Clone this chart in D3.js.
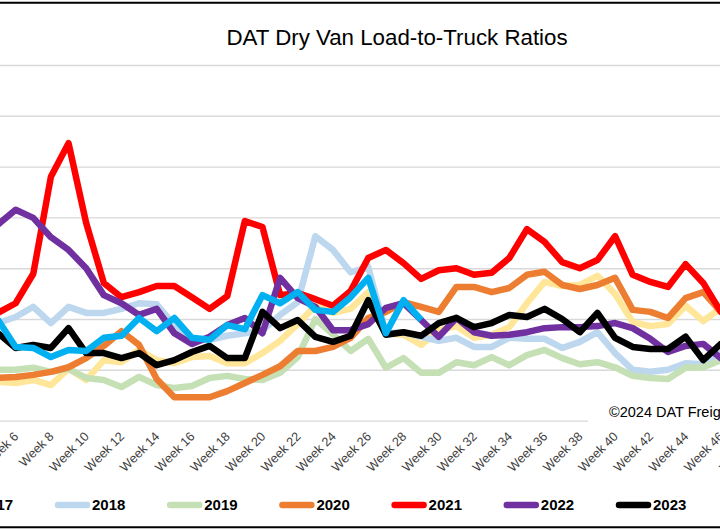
<!DOCTYPE html>
<html><head><meta charset="utf-8">
<script src="https://cdn.jsdelivr.net/npm/d3@7"></script>
<style>
html,body{margin:0;padding:0;background:#fff;overflow:hidden}
svg{display:block}
text{font-family:"Liberation Sans",Arial,sans-serif}
</style></head><body>
<svg id="chart" width="720" height="530"></svg>
<script>
// ---- data ----
const weeks = d3.range(1, 53);
const tickWeeks = d3.range(6, 49, 2);          // labels visible in the cropped picture
const tickLabels = tickWeeks.map(w => "Week " + w);
const gridValues = [1, 2, 3, 4, 5, 6, 7, 8];
const seriesNames = ["2017", "2018", "2019", "2020", "2021", "2022", "2023", "2024"];
const seriesColors = ["#FFE699", "#BDD7EE", "#C5E0B4", "#ED7D31", "#FF0000", "#7030A0", "#000000", "#00B0F0"];
const titleText = "DAT Dry Van Load-to-Truck Ratios";
const creditText = "\u00A92024 DAT Freight & Analytics";

const v2017 = [1.80,1.80,1.70,1.70,1.76,1.74,1.80,1.70,2.02,1.80,
  2.19,2.15,2.39,2.19,2.13,2.25,2.27,2.13,2.13,2.33,
  2.57,2.90,3.26,3.12,3.20,3.53,2.72,2.69,2.49,2.78,
  2.86,2.63,2.69,2.84,3.31,3.73,3.65,3.67,3.85,3.49,
  2.94,2.86,2.90,3.26,2.96,3.22,3.40,3.60,3.30,3.50,3.80,4.00];
const v2018 = [2.90,3.00,3.10,3.00,2.92,3.04,3.24,2.92,3.24,3.12,
  3.12,3.20,3.31,3.29,2.88,2.57,2.59,2.67,2.72,2.78,
  3.08,3.33,4.63,4.36,3.92,4.02,2.72,2.74,2.65,2.57,
  2.63,2.45,2.45,2.63,2.61,2.61,2.43,2.55,2.74,2.33,
  2.00,1.96,2.00,2.13,2.11,2.33,2.40,2.50,2.60,2.50,2.70,2.80];
const v2019 = [2.10,2.10,2.00,2.00,2.00,2.00,2.04,1.96,2.02,1.84,
  1.80,1.66,1.86,1.70,1.64,1.68,1.84,1.88,1.82,1.80,
  1.94,2.25,3.00,2.70,2.37,2.61,2.04,2.23,1.94,1.94,
  2.15,2.09,2.25,2.09,2.29,2.39,2.23,2.11,2.15,2.05,
  1.88,1.84,1.82,2.04,2.05,2.19,2.20,2.30,2.20,2.40,2.50,2.60];
const v2020 = [1.90,1.90,1.80,1.80,1.84,1.86,1.90,1.96,2.05,2.23,
  2.47,2.76,2.49,1.82,1.46,1.46,1.46,1.58,1.74,1.90,
  2.07,2.37,2.37,2.45,2.63,3.02,3.14,3.33,3.24,3.14,
  3.63,3.63,3.53,3.61,3.87,3.93,3.67,3.59,3.67,3.81,
  3.18,3.14,3.02,3.41,3.53,3.14,3.30,3.60,3.90,4.00,4.20,4.30];
const v2021 = [4.20,4.00,3.70,3.30,3.12,3.31,3.89,5.80,6.46,4.89,
  3.71,3.43,3.53,3.65,3.65,3.43,3.20,3.45,4.93,4.81,
  3.47,3.51,3.39,3.26,3.55,4.20,4.36,4.10,3.79,3.96,
  4.00,3.87,3.91,4.20,4.77,4.52,4.12,4.00,4.16,4.63,
  3.87,3.73,3.63,4.08,3.71,3.14,3.00,3.20,3.40,3.30,3.60,3.90];
const v2022 = [4.00,4.30,4.60,4.90,4.86,5.15,4.99,4.61,4.36,4.00,
  3.47,3.31,3.08,3.20,2.72,2.51,2.65,2.88,3.02,2.72,
  3.81,3.41,3.24,2.78,2.78,2.90,3.22,3.31,2.98,2.65,
  3.02,2.74,2.67,2.69,2.74,2.82,2.84,2.84,2.86,2.92,
  2.82,2.61,2.35,2.47,2.51,2.23,2.30,2.40,2.20,2.10,2.30,2.40];
const v2023 = [2.60,2.70,2.80,2.70,2.72,2.43,2.49,2.43,2.82,2.33,
  2.33,2.23,2.33,2.09,2.19,2.35,2.47,2.23,2.23,3.14,
  2.82,2.98,2.65,2.55,2.67,3.37,2.69,2.74,2.67,2.92,
  3.02,2.84,2.92,3.08,3.04,3.20,3.00,2.74,3.12,2.63,
  2.45,2.41,2.41,2.65,2.19,2.51,2.60,2.50,2.40,2.60,2.70,2.50];
const v2024 = [2.50,2.70,2.90,3.10,2.98,2.45,2.43,2.25,2.39,2.37,
  2.63,2.67,3.02,2.76,3.02,2.63,2.59,2.88,2.80,3.47,
  3.31,3.53,3.18,3.14,3.43,3.81,2.72,3.37,2.98];

const seriesValues = [v2017, v2018, v2019, v2020, v2021, v2022, v2023, v2024];

// ---- layout (the picture is a crop of a wider chart) ----
const W = 720, H = 530;
const firstX = -72.5, step = 17.63;
const yBottom = 420.6, yTop = 65;

const svg = d3.select("#chart");
svg.append("rect").attr("width", W).attr("height", H).attr("fill", "#fff");

const x = d3.scalePoint().domain(weeks).range([firstX, firstX + step * (weeks.length - 1)]);
const y = d3.scaleLinear().domain([1, 8]).range([yBottom, yTop]);

// gridlines
const grid = svg.append("g").attr("transform", `translate(${firstX - step / 2},0)`)
  .call(d3.axisLeft(y).tickValues(gridValues).tickSize(-(step * weeks.length)).tickFormat(""));
grid.select(".domain").remove();
grid.selectAll("line").attr("stroke", "#D9D9D9").attr("stroke-width", 1.4);

// credit box (covers bottom gridline)
svg.append("rect").attr("x", 588).attr("y", 399).attr("width", 200).attr("height", 26).attr("fill", "#fff");
svg.append("text").attr("x", 609).attr("y", 417).attr("font-size", 14.5).attr("fill", "#000").text(creditText);

// x axis labels
const xa = svg.append("g").attr("transform", "translate(0,434)")
  .call(d3.axisBottom(x).tickValues(tickWeeks).tickSize(0).tickFormat((d, i) => tickLabels[i]));
xa.select(".domain").remove();
xa.selectAll("text")
  .attr("font-size", 12.7).attr("fill", "#404040")
  .attr("font-family", '"Liberation Sans",Arial,sans-serif')
  .attr("text-anchor", "end").attr("x", 0).attr("y", 0).attr("dy", "0.35em")
  .attr("transform", "rotate(-45)");

// lines
const line = d3.line()
  .defined(d => d.v != null)
  .x(d => x(d.w)).y(d => y(d.v));
const table = seriesNames.map((name, i) => ({
  name, color: seriesColors[i],
  pts: seriesValues[i].map((v, j) => ({ w: weeks[j], v }))
}));
svg.append("g").selectAll("path").data(table).join("path")
  .attr("d", d => line(d.pts))
  .attr("fill", "none").attr("stroke", d => d.color)
  .attr("stroke-width", 6.5).attr("stroke-linejoin", "round").attr("stroke-linecap", "butt");

// title
svg.append("text").attr("x", 397).attr("y", 45).attr("text-anchor", "middle")
  .attr("font-size", 22.3).attr("fill", "#000").text(titleText);

// legend
const legX0 = -20.2, legStep = 112.2;
const leg = svg.append("g").selectAll("g").data(table).join("g")
  .attr("transform", (d, i) => `translate(${legX0 + i * legStep},0)`);
leg.append("line").attr("x1", -34).attr("x2", -5).attr("y1", 505).attr("y2", 505)
  .attr("stroke", d => d.color).attr("stroke-width", 6.5).attr("stroke-linecap", "round");
leg.append("text").attr("x", 0).attr("y", 510).attr("font-size", 15).attr("font-weight", "bold")
  .attr("fill", "#000").text(d => d.name);

// frame lines of the cropped picture
svg.append("line").attr("x1", 0).attr("x2", W).attr("y1", 2.8).attr("y2", 2.8).attr("stroke", "#000").attr("stroke-width", 2);
svg.append("line").attr("x1", 0).attr("x2", W).attr("y1", 527.3).attr("y2", 527.3).attr("stroke", "#000").attr("stroke-width", 2);
</script></body></html>
